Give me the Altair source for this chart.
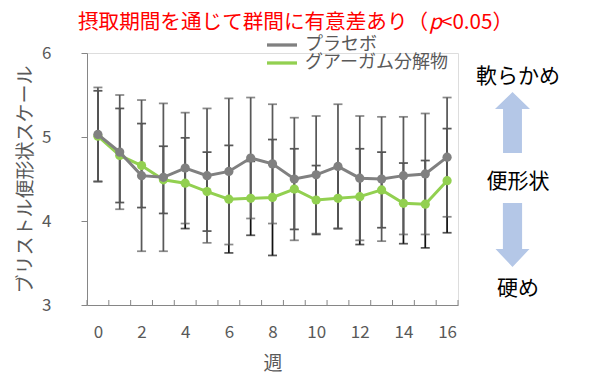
import altair as alt
import pandas as pd

# ---- data ----
weeks = list(range(17))
series_names = ["プラセボ", "グアーガム分解物"]
series_colors = ["#808080", "#92d050"]
error_colors = ["#595959", "#111111"]

placebo_mean = [5.03, 4.82, 4.54, 4.52, 4.63, 4.54, 4.59, 4.75, 4.68,
                4.50, 4.55, 4.65, 4.51, 4.50, 4.54, 4.56, 4.76]
placebo_sd = [0.56, 0.68, 0.90, 0.88, 0.66, 0.80, 0.87, 0.72, 0.71,
              0.73, 0.70, 0.74, 0.74, 0.74, 0.70, 0.72, 0.71]
guar_mean = [5.01, 4.78, 4.66, 4.49, 4.45, 4.35, 4.26, 4.27, 4.28,
             4.38, 4.25, 4.27, 4.29, 4.37, 4.21, 4.20, 4.48]
guar_sd = [0.54, 0.56, 0.50, 0.40, 0.54, 0.47, 0.64, 0.44, 0.69,
           0.48, 0.41, 0.36, 0.57, 0.45, 0.48, 0.52, 0.62]

x_tick_labels = [0, 2, 4, 6, 8, 10, 12, 14, 16]
y_tick_labels = [3, 4, 5, 6]
y_title = "ブリストル便形状スケール"
x_title = "週"
title_main = "摂取期間を通じて群間に有意差あり（"
title_p = "p"
title_tail = "<0.05）"
label_soft = "軟らかめ"
label_mid = "便形状"
label_hard = "硬め"

# ---- tables ----
def frame(mean, sd, name):
    return pd.DataFrame({
        "week": weeks,
        "value": mean,
        "lo": [m - s for m, s in zip(mean, sd)],
        "hi": [m + s for m, s in zip(mean, sd)],
        "series": name,
    })

df_p = frame(placebo_mean, placebo_sd, series_names[0])
df_g = frame(guar_mean, guar_sd, series_names[1])
boundaries = pd.DataFrame({"week": [w - 0.5 for w in weeks] + [weeks[-1] + 0.5]})

W, H = 371, 252
GRAY = "#595959"
FONT = "Noto Sans CJK JP"

xscale = alt.Scale(domain=[weeks[0] - 0.5, weeks[-1] + 0.5], nice=False, zero=False)
yscale = alt.Scale(domain=[3, 6], nice=False, zero=False)
xaxis = alt.Axis(values=x_tick_labels, ticks=False, tickSize=0, labelPadding=19,
                 labelFontSize=17, labelColor=GRAY, labelFont=FONT,
                 titleFontSize=19, titleColor=GRAY, titleFont=FONT, titleFontWeight="normal",
                 titlePadding=14, domainColor="#868686", grid=False, labelFlush=False)
yaxis = alt.Axis(values=y_tick_labels, tickSize=6, tickColor="#868686", labelPadding=30,
                 labelFontSize=17, labelColor=GRAY, labelFont=FONT,
                 titleFontSize=19, titleColor=GRAY, titleFont=FONT, titleFontWeight="normal",
                 titlePadding=6, domainColor="#868686", grid=False)


def X(field):
    return alt.X(field, type="quantitative", scale=xscale, axis=xaxis, title=x_title)


def Y(field):
    return alt.Y(field, type="quantitative", scale=yscale, axis=yaxis, title=y_title)


layers = []

# inward x-axis ticks between categories
layers.append(alt.Chart(boundaries).mark_rule(color="#868686", strokeWidth=1).encode(
    x=X("week"), y=alt.value(H), y2=alt.value(H - 5)))

# error bars: guar (black) first, placebo (gray) on top
for df, col in [(df_g, error_colors[1]), (df_p, error_colors[0])]:
    base = alt.Chart(df)
    layers.append(base.mark_rule(color=col, strokeWidth=1.75).encode(
        x=X("week"), y=Y("lo"), y2="hi"))
    layers.append(base.mark_tick(color=col, orient="horizontal", size=9, thickness=1.75).encode(
        x=X("week"), y=Y("lo")))
    layers.append(base.mark_tick(color=col, orient="horizontal", size=9, thickness=1.75).encode(
        x=X("week"), y=Y("hi")))

# lines + markers: green first, gray on top
for df, col in [(df_g, series_colors[1]), (df_p, series_colors[0])]:
    base = alt.Chart(df)
    layers.append(base.mark_line(color=col, strokeWidth=3).encode(x=X("week"), y=Y("value")))
    layers.append(base.mark_circle(color=col, size=85, opacity=1).encode(x=X("week"), y=Y("value")))

# legend (manual)
leg_rows = [(-8, series_names[0], series_colors[0]), (10, series_names[1], series_colors[1])]
for ly, name, col in leg_rows:
    ldf = pd.DataFrame({"t": [name]})
    layers.append(alt.Chart(ldf).mark_rule(color=col, strokeWidth=3.3).encode(
        x=alt.value(180), x2=alt.value(210), y=alt.value(ly)))
    layers.append(alt.Chart(ldf).mark_text(align="left", baseline="middle", fontSize=18,
                                           font=FONT, color=GRAY).encode(
        text="t:N", x=alt.value(218), y=alt.value(ly)))

# title with italic p
tdf = pd.DataFrame({"a": [title_main], "b": [title_p], "c": [title_tail]})
title_y = -30
TFS = 20.6
layers.append(alt.Chart(tdf).mark_text(align="left", baseline="middle", fontSize=TFS,
                                       font=FONT, color="#ff0000").encode(
    text="a:N", x=alt.value(-9), y=alt.value(title_y)))
layers.append(alt.Chart(tdf).mark_text(align="left", baseline="middle", fontSize=TFS,
                                       font=FONT, fontStyle="italic", color="#ff0000").encode(
    text="b:N", x=alt.value(342), y=alt.value(title_y)))
layers.append(alt.Chart(tdf).mark_text(align="left", baseline="middle", fontSize=TFS,
                                       font=FONT, color="#ff0000").encode(
    text="c:N", x=alt.value(354), y=alt.value(title_y)))

# right-side annotations
adf = pd.DataFrame({"s": [label_soft], "m": [label_mid], "h": [label_hard]})
for fld, yy in [("s", 24), ("m", 129), ("h", 236)]:
    layers.append(alt.Chart(adf).mark_text(align="center", baseline="middle", fontSize=21,
                                           font=FONT, color="#000000").encode(
        text=f"{fld}:N", x=alt.value(431), y=alt.value(yy)))

up_path = "M0,-1 L0.574,-0.44 L0.31,-0.44 L0.31,1 L-0.31,1 L-0.31,-0.44 L-0.574,-0.44 Z"
down_path = "M0,1 L0.53,0.44 L0.30,0.44 L0.30,-1 L-0.30,-1 L-0.30,0.44 L-0.53,0.44 Z"
layers.append(alt.Chart(adf).mark_point(shape=up_path, filled=True, size=3721,
                                        color="#b4c7e7", opacity=1, strokeWidth=0).encode(
    x=alt.value(425.5), y=alt.value(69.5)))
layers.append(alt.Chart(adf).mark_point(shape=down_path, filled=True, size=4096,
                                        color="#b4c7e7", opacity=1, strokeWidth=0).encode(
    x=alt.value(425.5), y=alt.value(182)))

chart = alt.layer(*layers).properties(
    width=W, height=H,
    autosize=alt.AutoSizeParams(type="none"),
    padding={"left": 79, "top": 45, "right": 128, "bottom": 68},
).configure_view(stroke=None).configure(font=FONT, background="white")

chart.save("out.html", embed_options={"renderer": "svg", "actions": False})
